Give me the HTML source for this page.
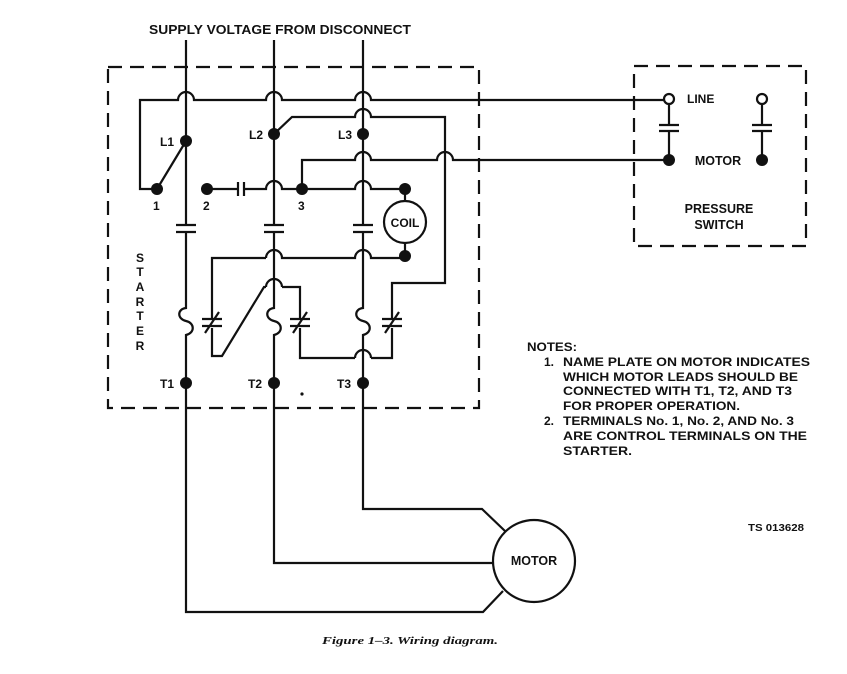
<!DOCTYPE html>
<html><head><meta charset="utf-8"><style>
html,body{margin:0;padding:0;background:#fff;}
svg{display:block;}
text{font-family:"Liberation Sans",sans-serif;font-weight:bold;fill:#111;}
</style></head><body>
<svg width="847" height="674" viewBox="0 0 847 674" xmlns="http://www.w3.org/2000/svg">
<g fill="none" stroke="#111" stroke-width="2.2" stroke-linejoin="miter">
<!-- dashed boxes -->
<rect x="108" y="67" width="371" height="341" stroke-dasharray="14,8"/>
<rect x="634" y="66" width="172" height="180" stroke-dasharray="14,8"/>
<!-- main verticals -->
<path d="M186,40 V225 M186,232 V308 c-9,1 -9,11 0,13 c9,2 9,12 0,14 V612 H483 L503,591"/>
<path d="M274,40 V225 M274,232 V308 c-9,1 -9,11 0,13 c9,2 9,12 0,14 V563 H493"/>
<path d="M363,40 V225 M363,232 V308 c-9,1 -9,11 0,13 c9,2 9,12 0,14 V509 H482 L505,531"/>
<!-- contacts on verticals -->
<path d="M176,225 H196 M176,232 H196 M264,225 H284 M264,232 H284 M353,225 H373 M353,232 H373"/>
<!-- top line -->
<path d="M157,189 H140 V100 H178 a8,8 0 0 1 16,0 H266 a8,8 0 0 1 16,0 H355 a8,8 0 0 1 16,0 H664"/>
<path d="M157,189 L186,141"/>
<!-- L2 wire -->
<path d="M274,134 L292,117 H355 a8,8 0 0 1 16,0 H445 V283 H392 V318 M392,328 V358 H371 M355,358 H300 V328 M300,318 V287 H282 M266,287 H264 L222,356 H212 V328 M212,318 V258 H266"/>
<path d="M355,358 a8,8 0 0 1 16,0"/>
<path d="M266,287 a8,8 0 0 1 16,0"/>
<path d="M266,258 a8,8 0 0 1 16,0 H355 a8,8 0 0 1 16,0 H405 V243"/>
<!-- NC overload contacts -->
<path d="M202,319 H222 M202,326 H222 M205,333 L219,312 M290,319 H310 M290,326 H310 M293,333 L307,312 M382,319 H402 M382,326 H402 M385,333 L399,312"/>
<!-- line y=189 -->
<path d="M207,189 H238 M238,182 V196 M244,182 V196 M244,189 H266 a8,8 0 0 1 16,0 H355 a8,8 0 0 1 16,0 H405 V201"/>
<!-- line y=160 -->
<path d="M302,189 V160 H355 a8,8 0 0 1 16,0 H437 a8,8 0 0 1 16,0 H664"/>
<circle cx="405" cy="222" r="21"/>
<circle cx="534" cy="561" r="41"/>
<!-- pressure switch -->
<circle cx="669" cy="99" r="5"/>
<circle cx="762" cy="99" r="5"/>
<path d="M669,104 V125 M659,125 H679 M659,131 H679 M669,131 V160"/>
<path d="M762,104 V125 M752,125 H772 M752,131 H772 M762,131 V160"/>
</g>
<g fill="#111">
<circle cx="186" cy="141" r="6"/><circle cx="274" cy="134" r="6"/><circle cx="363" cy="134" r="6"/>
<circle cx="157" cy="189" r="6"/><circle cx="207" cy="189" r="6"/><circle cx="302" cy="189" r="6"/>
<circle cx="405" cy="189" r="6"/><circle cx="405" cy="256" r="6"/>
<circle cx="186" cy="383" r="6"/><circle cx="274" cy="383" r="6"/><circle cx="363" cy="383" r="6"/>
<circle cx="669" cy="160" r="6"/><circle cx="762" cy="160" r="6"/>
<circle cx="302" cy="394" r="1.6"/>
</g>
<text x="149" y="34" font-size="13" textLength="262" lengthAdjust="spacingAndGlyphs">SUPPLY VOLTAGE FROM DISCONNECT</text>
<text x="160" y="146" font-size="12">L1</text>
<text x="249" y="139" font-size="12">L2</text>
<text x="338" y="139" font-size="12">L3</text>
<text x="153" y="210" font-size="12">1</text>
<text x="203" y="210" font-size="12">2</text>
<text x="298" y="210" font-size="12">3</text>
<text x="405" y="227" font-size="12" text-anchor="middle">COIL</text>
<g font-size="12" text-anchor="middle">
<text x="140" y="262">S</text><text x="140" y="276">T</text><text x="140" y="291">A</text><text x="140" y="306">R</text><text x="140" y="320">T</text><text x="140" y="335">E</text><text x="140" y="350">R</text>
</g>
<text x="160" y="388" font-size="12">T1</text>
<text x="248" y="388" font-size="12">T2</text>
<text x="337" y="388" font-size="12">T3</text>
<text x="534" y="565" font-size="12.5" text-anchor="middle">MOTOR</text>
<text x="687" y="103" font-size="12">LINE</text>
<text x="718" y="165" font-size="12.5" text-anchor="middle">MOTOR</text>
<text x="719" y="213" font-size="12.5" text-anchor="middle">PRESSURE</text>
<text x="719" y="229" font-size="12.5" text-anchor="middle">SWITCH</text>
<g font-size="12">
<text x="527" y="351" textLength="50" lengthAdjust="spacingAndGlyphs">NOTES:</text>
<text x="544" y="366">1.</text>
<text x="563" y="366" textLength="247" lengthAdjust="spacingAndGlyphs">NAME PLATE ON MOTOR INDICATES</text>
<text x="563" y="381" textLength="235" lengthAdjust="spacingAndGlyphs">WHICH MOTOR LEADS SHOULD BE</text>
<text x="563" y="395" textLength="229" lengthAdjust="spacingAndGlyphs">CONNECTED WITH T1, T2, AND T3</text>
<text x="563" y="410" textLength="177" lengthAdjust="spacingAndGlyphs">FOR PROPER OPERATION.</text>
<text x="544" y="425">2.</text>
<text x="563" y="425" textLength="231" lengthAdjust="spacingAndGlyphs">TERMINALS No. 1, No. 2, AND No. 3</text>
<text x="563" y="440" textLength="244" lengthAdjust="spacingAndGlyphs">ARE CONTROL TERMINALS ON THE</text>
<text x="563" y="455" textLength="69" lengthAdjust="spacingAndGlyphs">STARTER.</text>
</g>
<text x="748" y="531" font-size="10.5" textLength="56" lengthAdjust="spacingAndGlyphs">TS 013628</text>
<text x="322" y="644" font-size="11" font-style="italic" style="font-family:'Liberation Serif',serif" textLength="176" lengthAdjust="spacingAndGlyphs">Figure 1–3. Wiring diagram.</text>
</svg>
</body></html>
